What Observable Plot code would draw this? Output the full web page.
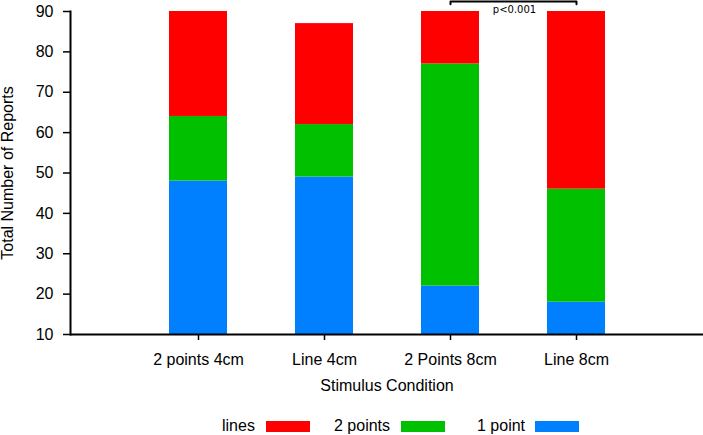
<!DOCTYPE html>
<html>
<head>
<meta charset="utf-8">
<script src="https://cdn.jsdelivr.net/npm/d3@7"></script>
<script src="https://cdn.jsdelivr.net/npm/@observablehq/plot@0.6"></script>
<style>
  html, body { margin: 0; padding: 0; background: #fff; }
  body { width: 703px; height: 435px; overflow: hidden; font-family: "Liberation Sans", Arial, Helvetica, sans-serif; }
  #legend { position: relative; width: 703px; height: 35px; font-size: 16px; color: #000; }
  #legend .lab { position: absolute; top: 16px; line-height: 20px; white-space: nowrap; }
  #legend .sw { position: absolute; top: 21px; width: 44px; height: 11px; }
</style>
</head>
<body>
<div id="chart"></div>
<div id="legend"></div>
<script>
// ---- data ----
const conditions = ["2 points 4cm", "Line 4cm", "2 Points 8cm", "Line 8cm"];
const onePoint  = [48, 49, 22, 18];
const twoPoints = [16, 13, 55, 28];
const linesVals = [26, 25, 13, 44];
const types  = ["1 point", "2 points", "lines"];
const colors = ["#0080ff", "#00c000", "#ff0000"];
const yTicks = [10, 20, 30, 40, 50, 60, 70, 80, 90];
const xTitle = "Stimulus Condition";
const yTitle = "Total Number of Reports";
const sigFrom = "2 Points 8cm", sigTo = "Line 8cm", sigLabel = "p<0.001";
const sigLow = 91.8, sigHigh = 92.5, sigText = 90.4;
const legendOrder = ["lines", "2 points", "1 point"];

const series = {"1 point": onePoint, "2 points": twoPoints, "lines": linesVals};
const table = [];
conditions.forEach((c, i) => types.forEach(t => table.push({condition: c, type: t, count: series[t][i]})));

const bracket = [
  {x: sigFrom, y: sigLow}, {x: sigFrom, y: sigHigh},
  {x: sigTo, y: sigHigh}, {x: sigTo, y: sigLow}
];

const plot = Plot.plot({
  width: 703,
  height: 400,
  marginLeft: 70,
  marginRight: 0,
  marginTop: 11,
  marginBottom: 66,
  style: {fontFamily: "'Liberation Sans', Arial, Helvetica, sans-serif", fontSize: "16px", color: "#000", background: "#fff"},
  x: {type: "band", domain: conditions, paddingInner: 0.542, paddingOuter: 0.771, align: 0.5, label: null},
  y: {domain: [10, 90], label: null},
  color: {domain: types, range: colors},
  marks: [
    Plot.barY(table, {x: "condition", y: "count", fill: "type", clip: true}),
    Plot.axisY({ticks: yTicks, tickSize: 7, tickPadding: 10, strokeWidth: 1.5, label: null, fontSize: 16}),
    Plot.axisX({tickSize: 6, tickPadding: 13, strokeWidth: 1.5, label: null, fontSize: 16}),
    Plot.frame({anchor: "left", strokeWidth: 2}),
    Plot.ruleY([10], {strokeWidth: 2}),
    Plot.text([xTitle], {frameAnchor: "bottom", textAnchor: "middle", dy: 56, fontSize: 16}),
    Plot.text([yTitle], {frameAnchor: "left", textAnchor: "middle", dx: -63, rotate: -90, fontSize: 16}),
    Plot.line(bracket, {x: "x", y: "y", stroke: "#000", strokeWidth: 2, clip: false}),
    Plot.text([sigLabel], {x: () => sigFrom, y: () => sigText, dx: 64, fontSize: 10, fontFamily: "'DejaVu Sans', sans-serif"})
  ]
});
document.getElementById("chart").appendChild(plot);

// ---- legend ----
const legend = document.getElementById("legend");
const legendPos = {"lines": [222, 266], "2 points": [334, 401], "1 point": [477, 535]};
legendOrder.forEach(t => {
  const lab = document.createElement("div");
  lab.className = "lab";
  lab.textContent = t;
  lab.style.left = legendPos[t][0] + "px";
  legend.appendChild(lab);
  const sw = document.createElement("div");
  sw.className = "sw";
  sw.style.left = legendPos[t][1] + "px";
  sw.style.background = colors[types.indexOf(t)];
  legend.appendChild(sw);
});
</script>
</body>
</html>
